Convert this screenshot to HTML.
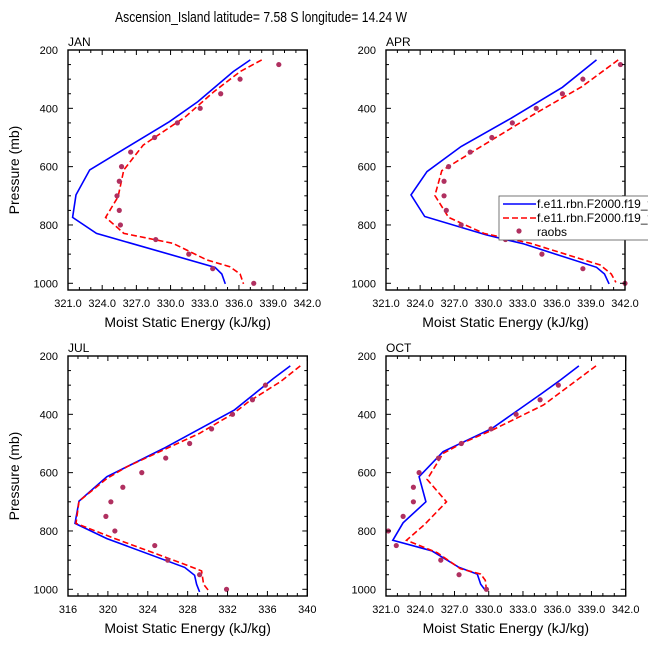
<!DOCTYPE html>
<html><head><meta charset="utf-8"><style>
html,body{margin:0;padding:0;background:#fff;}
svg{display:block;font-family:"Liberation Sans",Arial,sans-serif;}
</style></head><body>
<svg id="chart" width="648" height="649" viewBox="0 0 648 649" xmlns="http://www.w3.org/2000/svg">
<text x="115" y="22" font-size="15" textLength="292" lengthAdjust="spacingAndGlyphs">Ascension_Island  latitude= 7.58 S longitude= 14.24 W</text>
</svg>
<script>
// ---- data ----
const obsPressures = [250,300,350,400,450,500,550,600,650,700,750,800,850,900,950,1000];
const janObs = [339.5,336.1,334.4,332.6,330.6,328.6,326.5,325.7,325.5,325.3,325.5,325.6,328.7,331.6,333.7,337.3];
const aprObs = [341.6,338.3,336.5,334.2,332.1,330.3,328.4,326.5,326.1,326.1,326.3,327.6,331.5,334.7,338.3,342.0];
const julObs = [null,335.8,334.5,332.5,330.4,328.2,325.8,323.4,321.5,320.3,319.8,320.7,324.7,326.0,329.2,331.9];
const octObs = [null,336.1,334.5,332.4,330.2,327.6,325.6,323.9,323.4,323.4,322.5,321.2,321.9,325.8,327.4,329.8];

const janBlueP = [234,274,377,446,611,697,774,829,945,968,1002];
const janBlue  = [337.0,335.5,332.4,329.9,322.9,321.7,321.4,323.5,333.9,334.5,334.8];
const janRedP  = [234,274,343,429,526,611,703,774,811,829,863,920,943,968,1002];
const janRed   = [338.0,336.1,333.8,331.3,327.6,325.9,325.4,324.3,325.4,325.9,330.2,333.2,335.2,336.1,336.4];

const aprBlueP = [234,328,434,531,617,697,771,834,865,945,968,1002];
const aprBlue  = [339.5,336.5,332.0,327.6,324.6,323.2,324.4,329.8,333.1,339.5,340.2,340.6];
const aprRedP  = [234,326,423,554,614,699,774,829,863,937,968,997];
const aprRed   = [341.4,338.2,333.9,328.4,325.9,325.3,326.5,329.6,333.7,339.8,340.8,341.2];

const julBlueP = [234,277,385,517,614,698,774,826,925,952,983,1009];
const julBlue  = [338.3,336.6,332.7,325.6,319.9,317.1,316.7,319.9,327.7,328.7,328.9,329.2];
const julRedP  = [234,288,357,397,465,580,620,698,774,826,917,937,983,1009];
const julRed   = [339.3,337.3,334.1,332.6,329.2,321.9,319.9,317.1,316.8,320.7,327.9,329.4,329.6,330.2];

const octBlueP = [234,282,330,448,528,614,700,772,832,868,925,948,983,1003];
const octBlue  = [337.9,336.3,334.6,330.3,326.0,323.9,324.5,322.5,321.6,325.0,327.4,329.0,329.3,329.7];
const octRedP  = [234,368,454,500,534,623,700,777,832,875,929,948,969,1001];
const octRed   = [339.4,334.8,330.3,327.6,326.0,324.6,326.3,324.4,322.8,325.5,327.5,329.3,329.7,329.8];

const yTicks = [200,400,600,800,1000];
const xTicksA = [321,324,327,330,333,336,339,342];
const xTicksB = [316,320,324,328,332,336,340];
const legendLabels = ["f.e11.rbn.F2000.f19_f19.cam5.4.0.dstd.v1.ctrl","f.e11.rbn.F2000.f19_f19.cam5.4.0.dstd.v1.exp","raobs"];

// ---- drawing ----
const svg = document.getElementById('chart');
const NS = 'http://www.w3.org/2000/svg';
function mk(tag, attrs, parent){
  const e = document.createElementNS(NS, tag);
  for (const k in attrs) e.setAttribute(k, attrs[k]);
  (parent||svg).appendChild(e);
  return e;
}

const panels = [
  {name:'jan', title:'JAN', L:68, R:307.3, T:50, B:290, xmin:321, xmax:342, xt:xTicksA, minor:1, dec:1, showY:true,
   blue:[janBlueP,janBlue], red:[janRedP,janRed], obs:janObs},
  {name:'apr', title:'APR', L:386, R:625, T:50, B:290, xmin:321, xmax:342, xt:xTicksA, minor:1, dec:1, showY:false,
   blue:[aprBlueP,aprBlue], red:[aprRedP,aprRed], obs:aprObs},
  {name:'jul', title:'JUL', L:68, R:307.3, T:356, B:596, xmin:316, xmax:340, xt:xTicksB, minor:1, dec:0, showY:true,
   blue:[julBlueP,julBlue], red:[julRedP,julRed], obs:julObs},
  {name:'oct', title:'OCT', L:386, R:625.7, T:356, B:596, xmin:321, xmax:342, xt:xTicksA, minor:1, dec:1, showY:false,
   blue:[octBlueP,octBlue], red:[octRedP,octRed], obs:octObs}
];

panels.forEach(p => {
  const g = mk('g', {});
  
  
  const pmin = 200, pmax = 1023;
  const X = v => p.L + (v - p.xmin) / (p.xmax - p.xmin) * (p.R - p.L);
  const Y = v => p.T + (v - pmin) / (pmax - pmin) * (p.B - p.T);

  // series
  const line = (arr, color, dash, nm) => {
    const pts = arr[0].map((pp,i) => X(arr[1][i]).toFixed(1)+','+Y(pp).toFixed(1)).join(' ');
    const pl = mk('polyline', {points:pts, fill:'none', stroke:color, 'stroke-width':1.6}, g);
    if (dash) pl.setAttribute('stroke-dasharray', dash);
    
    
  };
  line(p.blue, '#0000ff', null, p.name + '-ctrl-line');
  line(p.red, '#ff0000', '6,3', p.name + '-exp-line');
  p.obs.forEach((v,i) => {
    if (v === null) return;
    const c = mk('circle', {cx:X(v), cy:Y(obsPressures[i]), r:2.6, fill:'#b03060'}, g);
    
    
  });

  // frame
  const fr = mk('rect', {x:p.L, y:p.T, width:p.R-p.L, height:p.B-p.T, fill:'none', stroke:'#000', 'stroke-width':1.4}, g);
  
  

  // x ticks
  for (let v = p.xmin; v <= p.xmax + 1e-6; v += p.minor) {
    const major = p.xt.some(t => Math.abs(t - v) < 1e-6);
    const len = major ? 5 : 3;
    const x = X(v);
    mk('line', {x1:x, y1:p.B, x2:x, y2:p.B-len, stroke:'#000', 'stroke-width':1}, g);
    mk('line', {x1:x, y1:p.T, x2:x, y2:p.T+len, stroke:'#000', 'stroke-width':1}, g);
  }
  p.xt.forEach(t => {
    const tx = mk('text', {x:X(t), y:p.B+17, 'font-size':11, 'text-anchor':'middle'}, g);
    tx.textContent = t.toFixed(p.dec);
    
    
  });
  // y ticks
  for (let v = 200; v <= 1000; v += 50) {
    const major = v % 200 === 0;
    const len = major ? 5 : 3;
    const y = Y(v);
    mk('line', {x1:p.L, y1:y, x2:p.L+len, y2:y, stroke:'#000', 'stroke-width':1}, g);
    mk('line', {x1:p.R, y1:y, x2:p.R-len, y2:y, stroke:'#000', 'stroke-width':1}, g);
  }
  yTicks.forEach(t => {
    const ty = mk('text', {x:p.L-10, y:Y(t)+4, 'font-size':11, 'text-anchor':'end'}, g);
    ty.textContent = t;
    
    
  });
  // titles
  const pt = mk('text', {x:p.L, y:p.T-4, 'font-size':12}, g);
  pt.textContent = p.title;
  
  
  const xa = mk('text', {x:(p.L+p.R)/2, y:p.B+37, 'font-size':14, 'text-anchor':'middle'}, g);
  xa.textContent = 'Moist Static Energy (kJ/kg)';
  
  
  if (p.showY) {
    const cy = (p.T+p.B)/2;
    const ya = mk('text', {x:19, y:cy, 'font-size':14, 'text-anchor':'middle', transform:'rotate(-90 19 '+cy+')'}, g);
    ya.textContent = 'Pressure (mb)';
    
    
  }
});

// legend
const lg = mk('g', {});


mk('rect', {x:499, y:196, width:160, height:44, fill:'#fff', stroke:'#555', 'stroke-width':0.8}, lg);
const rows = [204, 218, 232];
[['#0000ff',null],['#ff0000','6,3'],[null,null]].forEach((s,i) => {
  const e = mk('g', {}, lg);
  
  
  if (s[0]) {
    const l = mk('line', {x1:503, y1:rows[i], x2:536, y2:rows[i], stroke:s[0], 'stroke-width':1.6}, e);
    if (s[1]) l.setAttribute('stroke-dasharray', s[1]);
  } else {
    mk('circle', {cx:519, cy:rows[i]-1, r:2.6, fill:'#b03060'}, e);
  }
  const t = mk('text', {x:537, y:rows[i]+4, 'font-size':12}, e);
  t.textContent = legendLabels[i];
});
</script>
</body></html>
